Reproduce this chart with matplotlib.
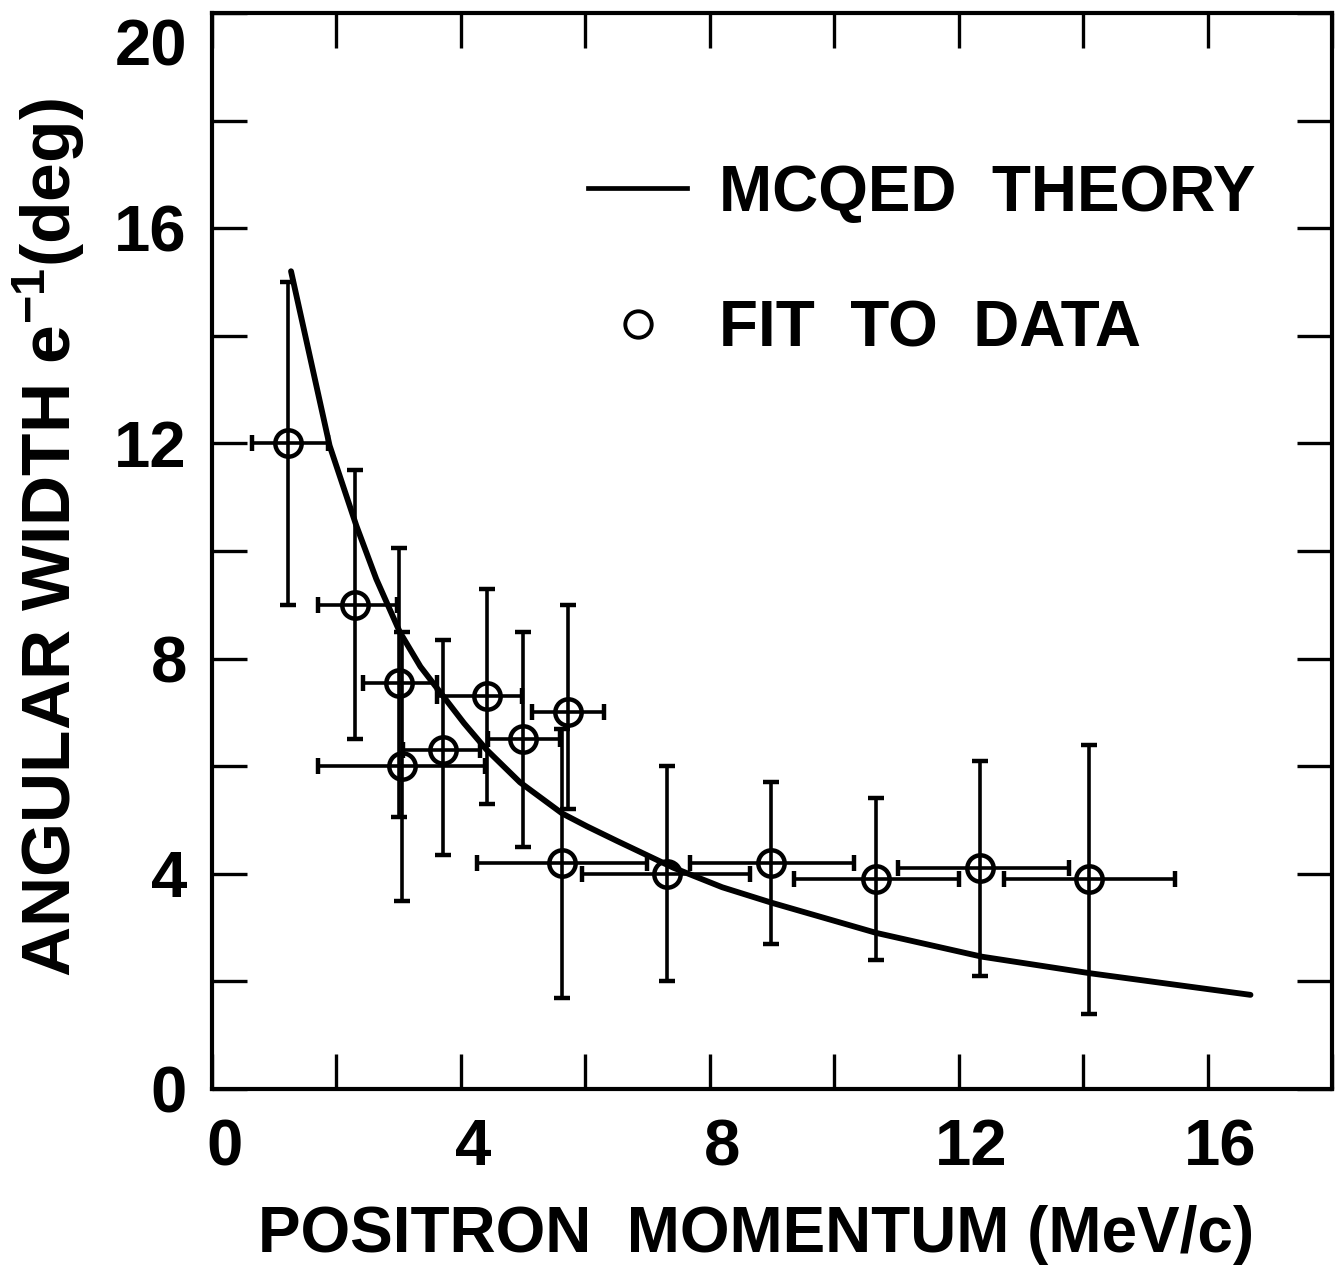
import matplotlib
matplotlib.use("Agg")
import matplotlib.pyplot as plt
from matplotlib.ticker import MultipleLocator, FuncFormatter
from matplotlib.lines import Line2D
from matplotlib.transforms import ScaledTranslation
import numpy as np

plt.rcParams['font.family'] = ['Liberation Sans', 'DejaVu Sans']
plt.rcParams['font.weight'] = 'bold'
plt.rcParams['mathtext.fontset'] = 'custom'
plt.rcParams['mathtext.rm'] = 'Liberation Sans:bold'
plt.rcParams['mathtext.bf'] = 'Liberation Sans:bold'
plt.rcParams['mathtext.default'] = 'rm'

# Fitted angular widths: centre, and the ends of the momentum / width bars
momentum = [1.22, 2.30, 3.01, 3.05, 3.71, 4.42, 5.00, 5.72, 5.62, 7.32, 8.99, 10.67, 12.35, 14.09]
mom_lo   = [0.65, 1.70, 2.43, 1.70, 3.07, 3.62, 4.44, 5.14, 4.26, 5.94, 7.68, 9.35, 11.03, 12.73]
mom_hi   = [1.86, 2.97, 3.62, 4.39, 4.31, 4.98, 5.59, 6.30, 6.99, 8.65, 10.31, 12.00, 13.77, 15.47]
width    = [12.0, 9.0, 7.55, 6.0, 6.3, 7.3, 6.5, 7.0, 4.2, 4.0, 4.2, 3.9, 4.1, 3.9]
width_lo = [9.0, 6.5, 5.05, 3.5, 4.35, 5.3, 4.5, 5.2, 1.7, 2.0, 2.7, 2.4, 2.1, 1.4]
width_hi = [15.0, 11.5, 10.05, 8.5, 8.35, 9.3, 8.5, 9.0, 6.7, 6.0, 5.7, 5.4, 6.1, 6.4]

# MCQED theory curve
theory_p = [1.27, 1.58, 1.89, 2.32, 2.64, 3.02, 3.35, 3.71, 4.05, 4.41, 4.95,
            5.63, 6.03, 6.51, 7.42, 8.20, 9.00, 10.68, 12.37, 14.12, 16.69]
theory_w = [15.2, 13.58, 11.96, 10.47, 9.48, 8.49, 7.85, 7.31, 6.8, 6.31, 5.70,
            5.12, 4.88, 4.61, 4.11, 3.75, 3.46, 2.90, 2.46, 2.15, 1.75]

x_ticks_every = 2
x_labels_every = 4
y_ticks_every = 2
y_labels_every = 4
y_top = 20

W, H = 1342, 1276
fig = plt.figure(figsize=(W / 100, H / 100), dpi=100)
ax = fig.add_axes([212 / W, 1 - 1089 / H, (1332 - 212) / W, (1089 - 13) / H])

p = np.array(momentum)
w = np.array(width)
xerr = [p - np.array(mom_lo), np.array(mom_hi) - p]
yerr = [w - np.array(width_lo), np.array(width_hi) - w]

ax.plot(theory_p, theory_w, color='black', lw=4.2, solid_capstyle='round',
        solid_joinstyle='round', zorder=3)
ax.errorbar(p, w, xerr=xerr, yerr=yerr, fmt='o', ms=19, mfc='none', mec='black',
            mew=3.2, ecolor='black', elinewidth=2.6, capsize=6, capthick=3.0,
            color='black', zorder=4)

ax.set_xlim(0, 18)
ax.set_ylim(0, y_top)

ax.xaxis.set_major_locator(MultipleLocator(x_ticks_every))
ax.yaxis.set_major_locator(MultipleLocator(y_ticks_every))


def every(n, skip=None):
    def fmt(v, pos):
        iv = int(round(v))
        if iv % n != 0 or iv == skip:
            return ""
        return f"{iv}"
    return FuncFormatter(fmt)


ax.xaxis.set_major_formatter(every(x_labels_every))
# the top label is set a little lower so it stays inside the figure
ax.yaxis.set_major_formatter(every(y_labels_every, skip=y_top))

ax.tick_params(axis='both', which='major', direction='in', length=25, width=2.4,
               top=True, right=True, labelsize=47)
ax.tick_params(axis='x', pad=21)
ax.tick_params(axis='y', pad=18)
for s in ax.spines.values():
    s.set_linewidth(3.0)

ax.annotate(str(y_top), xy=(0, y_top), xycoords=('axes fraction', 'data'),
            xytext=(-18, -4), textcoords='offset points', ha='right', va='top',
            fontsize=47, fontweight='bold')

ax.set_xlabel('POSITRON  MOMENTUM (MeV/c)', fontsize=46, fontweight='bold')
ax.set_ylabel(r'ANGULAR WIDTH e$^{-1}$(deg)', fontsize=50, fontweight='bold')
ax.xaxis.set_label_coords(0.486, -0.108)
ax.yaxis.set_label_coords(-0.112, 0.512)

handles = [Line2D([], [], color='black', lw=3.4),
           Line2D([], [], ls='none', marker='o', ms=19, mfc='none', mec='black', mew=2.8)]
ax.legend(handles, ['MCQED  THEORY', 'FIT  TO  DATA'], loc='upper left',
          bbox_to_anchor=(0.336, 0.860), frameon=False,
          prop={'weight': 'bold', 'size': 46}, handlelength=1.55, handletextpad=0.5,
          labelspacing=1.18, borderpad=0, borderaxespad=0)

# nudge the momentum tick labels slightly to the right
fig.canvas.draw()
shift = ScaledTranslation(9 / 72, 0, fig.dpi_scale_trans)
for lab in ax.get_xticklabels():
    lab.set_transform(lab.get_transform() + shift)

fig.savefig('out.png', dpi=100)
